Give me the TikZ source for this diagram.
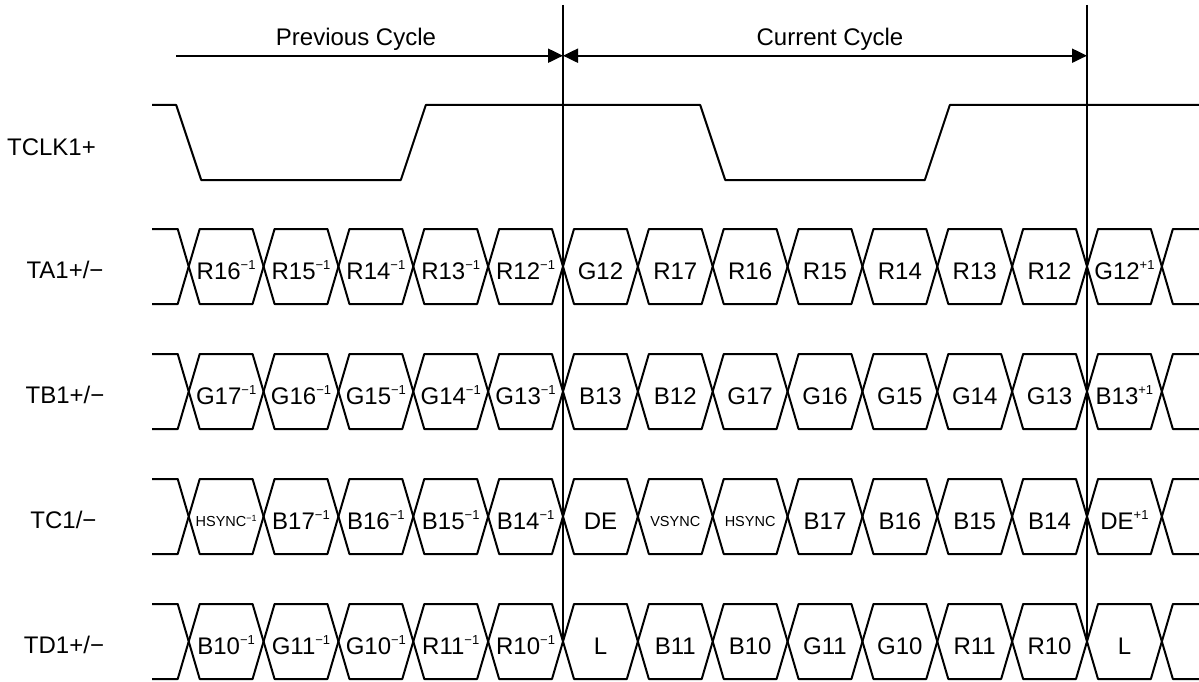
\documentclass[tikz,border=0pt]{standalone}
\usepackage{fontspec}
\setmainfont{Liberation Sans}
\usetikzlibrary{arrows.meta}

\tikzset{
  wave/.style={line width=2pt, line join=round},
  sig/.style={font=\fontsize{24}{28}\selectfont, anchor=base, inner sep=0pt},
  cyc/.style={line width=2pt, -{Triangle[length=15pt,width=14pt]}},
  cycboth/.style={line width=2pt, {Triangle[length=15pt,width=14pt]}-{Triangle[length=15pt,width=14pt]}},
}
\newcommand{\pw}[1]{\raisebox{9.5pt}{\fontsize{13}{13}\selectfont #1}}
\newcommand{\sm}[1]{\raisebox{2.5pt}{\fontsize{14.5}{16}\selectfont #1}}

\begin{document}
\begin{tikzpicture}[x=1pt, y=-1pt]
\useasboundingbox (0,0) rectangle (1199,682);

% cycle boundaries
\coordinate (b0) at (563,5);
\coordinate (b1) at (1087,5);
\coordinate (pc) at (176,55.7);

% signal names
\node[sig] (tclk) at (51.5,156) {TCLK1+};
\node[sig] (ta) at (65,278.5) {TA1+/−};
\node[sig] (tb) at (65,403.5) {TB1+/−};
\node[sig] (tc) at (63.5,528.5) {TC1/−};
\node[sig] (td) at (64,653.5) {TD1+/−};

% clock
\draw[wave] (152,105) -- (176.2,105) -- (201.2,180) -- (400.8,180) -- (425.8,105) -- (700.2,105) -- (725.2,180) -- (924.8,180) -- (949.8,105) -- (1199,105);

% data lanes
\foreach \r/\yc/\labs in {
  ta/266.5/{R16\pw{−1},R15\pw{−1},R14\pw{−1},R13\pw{−1},R12\pw{−1},G12,R17,R16,R15,R14,R13,R12,G12\pw{+1}},
  tb/391.5/{G17\pw{−1},G16\pw{−1},G15\pw{−1},G14\pw{−1},G13\pw{−1},B13,B12,G17,G16,G15,G14,G13,B13\pw{+1}},
  tc/516.5/{\sm{HSYNC\raisebox{5pt}{\fontsize{9}{9}\selectfont −1}},B17\pw{−1},B16\pw{−1},B15\pw{−1},B14\pw{−1},DE,\sm{VSYNC},\sm{HSYNC},B17,B16,B15,B14,DE\pw{+1}},
  td/641.5/{B10\pw{−1},G11\pw{−1},G10\pw{−1},R11\pw{−1},R10\pw{−1},L,B11,B10,G11,G10,R11,R10,L}}
{
  \draw[wave] (152,{\yc-37.5}) -- ({563-5*74.857-11},{\yc-37.5}) -- ({563-5*74.857},\yc) -- ({563-5*74.857-11},{\yc+37.5}) -- (152,{\yc+37.5});
  \draw[wave] (1199,{\yc-37.5}) -- ({563+8*74.857+11},{\yc-37.5}) -- ({563+8*74.857},\yc) -- ({563+8*74.857+11},{\yc+37.5}) -- (1199,{\yc+37.5});
  \foreach \l [count=\i] in \labs {
    \pgfmathsetmacro\xa{563+(\i-6)*74.857}
    \pgfmathsetmacro\xb{\xa+74.857}
    \draw[wave] (\xa,\yc) -- ({\xa+11},{\yc-37.5}) -- ({\xb-11},{\yc-37.5}) -- (\xb,\yc) -- ({\xb-11},{\yc+37.5}) -- ({\xa+11},{\yc+37.5}) -- cycle;
    \node[sig] (\r-\i) at ({(\xa+\xb)/2},{\yc+12.5}) {\l};
  }
}

% boundaries and cycle arrows
\draw[wave] (b0) -- (563,643);
\draw[wave] (b1) -- (1087,643);
\draw[cyc] (pc) -- (b0 |- pc);
\draw[cycboth] (b0 |- pc) -- (b1 |- pc);
\node[sig] (prev) at (356,46) {Previous Cycle};
\node[sig] (cur) at (830,46) {Current Cycle};
\end{tikzpicture}
\end{document}
